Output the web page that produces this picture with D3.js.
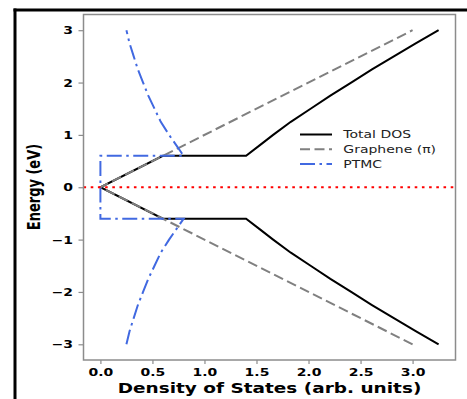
<!DOCTYPE html>
<html>
<head>
<meta charset="utf-8">
<script src="https://cdn.jsdelivr.net/npm/d3@7"></script>
<style>
  html, body { margin: 0; padding: 0; background: #fff; }
  svg { display: block; }
</style>
</head>
<body>
<svg id="chart" width="467" height="399"></svg>
<script>
// ---- data ----
const totalEnergy = [-3.0,-2.75,-2.5,-2.25,-2.0,-1.75,-1.5,-1.25,-1.0,-0.8,-0.6,-0.6,0.0,0.6,0.6,0.8,1.0,1.25,1.5,1.75,2.0,2.25,2.5,2.75,3.0];
const totalDOS    = [3.25,3.03,2.82,2.61,2.41,2.21,2.02,1.83,1.66,1.53,1.40,0.60,0.0,0.60,1.40,1.53,1.66,1.83,2.02,2.21,2.41,2.61,2.82,3.03,3.25];
const grapheneEnergy = [-3.0, 0.0, 3.0];
const grapheneDOS    = [3.0, 0.0, 3.0];
const ptmcEnergy = [-3.0,-2.75,-2.5,-2.25,-2.0,-1.75,-1.5,-1.25,-1.0,-0.8,-0.6,-0.6,0.6,0.6,0.8,1.0,1.25,1.5,1.75,2.0,2.25,2.5,2.75,3.0];
const ptmcDOS    = [0.25,0.28,0.32,0.36,0.41,0.46,0.52,0.58,0.66,0.73,0.80,0.0,0.0,0.80,0.73,0.66,0.58,0.52,0.46,0.41,0.36,0.32,0.28,0.25];
const xTicks = [0.0, 0.5, 1.0, 1.5, 2.0, 2.5, 3.0];
const yTicks = [-3, -2, -1, 0, 1, 2, 3];
const legendLabels = ["Total DOS", "Graphene (\u03c0)", "PTMC"];
const fermiLevel = 0;

// ---- layout ----
const SX = 1.4; // horizontal stretch of the reference image
const svg = d3.select("#chart");
const mLeft = 83.5, mRight = 455.5, mTop = 14.5, mBottom = 360;

const x = d3.scaleLinear().domain([-0.1625, 3.4125]).range([mLeft, mRight]);
const y = d3.scaleLinear().domain([-3.3, 3.3]).range([mBottom, mTop]);

svg.append("rect").attr("width", 467).attr("height", 399).attr("fill", "#fff");

// outer black frame (top and left)
svg.append("line").attr("x1", 13.5).attr("x2", 467).attr("y1", 10).attr("y2", 10)
  .attr("stroke", "#000").attr("stroke-width", 3);
svg.append("line").attr("x1", 15).attr("x2", 15).attr("y1", 8.5).attr("y2", 399)
  .attr("stroke", "#000").attr("stroke-width", 3);

const plot = svg.append("g");
plot.append("clipPath").attr("id", "clip").append("rect")
  .attr("x", mLeft).attr("y", mTop).attr("width", mRight - mLeft).attr("height", mBottom - mTop);

const line = d3.line().x(d => x(d[0])).y(d => y(d[1]));

const zipped = (xs, ys) => xs.map((v, i) => [v, ys[i]]);

const series = [
  { pts: zipped(totalDOS, totalEnergy), color: "#000", dash: null, width: 2 },
  { pts: zipped(grapheneDOS, grapheneEnergy), color: "#808080", dash: "10,4.5", width: 2 },
  { pts: zipped(ptmcDOS, ptmcEnergy), color: "#4169e1", dash: "15,4.5,2.5,4.5", width: 2 }
];

const g = plot.append("g").attr("clip-path", "url(#clip)");
series.forEach(s => {
  g.append("path").datum(s.pts).attr("d", line)
    .attr("fill", "none").attr("stroke", s.color)
    .attr("stroke-width", s.width)
    .attr("stroke-dasharray", s.dash)
    .attr("stroke-linejoin", "miter");
});

// Fermi level
g.append("line").attr("x1", mLeft).attr("x2", mRight)
  .attr("y1", y(fermiLevel)).attr("y2", y(fermiLevel))
  .attr("stroke", "#ff0000").attr("stroke-width", 2).attr("stroke-dasharray", "2.6,4.6");

// spines
svg.append("rect").attr("x", mLeft).attr("y", mTop).attr("width", mRight - mLeft).attr("height", mBottom - mTop)
  .attr("fill", "none").attr("stroke", "#8c8c8c").attr("stroke-width", 1.5);

// axes
const xAxis = d3.axisBottom(x).tickValues(xTicks).tickFormat(d3.format(".1f")).tickSize(4).tickSizeOuter(0);
const yAxis = d3.axisLeft(y).tickValues(yTicks).tickFormat(d3.format("d")).tickSize(5).tickSizeOuter(0);

const gx = svg.append("g").attr("transform", `translate(0,${mBottom})`).call(xAxis);
const gy = svg.append("g").attr("transform", `translate(${mLeft},0)`).call(yAxis);
[gx, gy].forEach(a => {
  a.select(".domain").remove();
  a.selectAll(".tick line").attr("stroke", "#8c8c8c").attr("stroke-width", 1.2);
  a.selectAll(".tick text")
    .attr("font-family", "DejaVu Sans").attr("font-weight", "bold")
    .attr("font-size", 10).attr("fill", "#000")
    .attr("x", 0).attr("y", 0).attr("dy", null);
});
gx.selectAll(".tick text").attr("text-anchor", "middle")
  .attr("transform", `translate(0,15.7) scale(${SX},1)`);
gy.selectAll(".tick text").attr("text-anchor", "end")
  .attr("transform", `translate(-10.6,3.6) scale(${SX},1)`);

// axis labels
svg.append("text").text("Density of States (arb. units)")
  .attr("font-family", "DejaVu Sans").attr("font-weight", "bold").attr("font-size", 13.2)
  .attr("text-anchor", "middle")
  .attr("transform", `translate(${(mLeft + mRight) / 2},392.5) scale(${SX},1)`);
svg.append("text").text("Energy (eV)")
  .attr("font-family", "DejaVu Sans").attr("font-weight", "bold").attr("font-size", 13)
  .attr("text-anchor", "middle")
  .attr("transform", `translate(40,187) scale(${SX},1) rotate(-90)`);

// legend
const legend = svg.append("g");
legendLabels.forEach((lab, i) => {
  const s = series[i];
  const ly = 134.5 + i * 14.7;
  legend.append("line").attr("x1", 300).attr("x2", 332).attr("y1", ly).attr("y2", ly)
    .attr("stroke", s.color).attr("stroke-width", s.width).attr("stroke-dasharray", s.dash);
  legend.append("text").text(lab)
    .attr("font-family", "DejaVu Sans").attr("font-size", 10).attr("fill", "#222")
    .attr("transform", `translate(343.3,${ly + 3.7}) scale(${SX},1)`);
});
</script>
</body>
</html>
